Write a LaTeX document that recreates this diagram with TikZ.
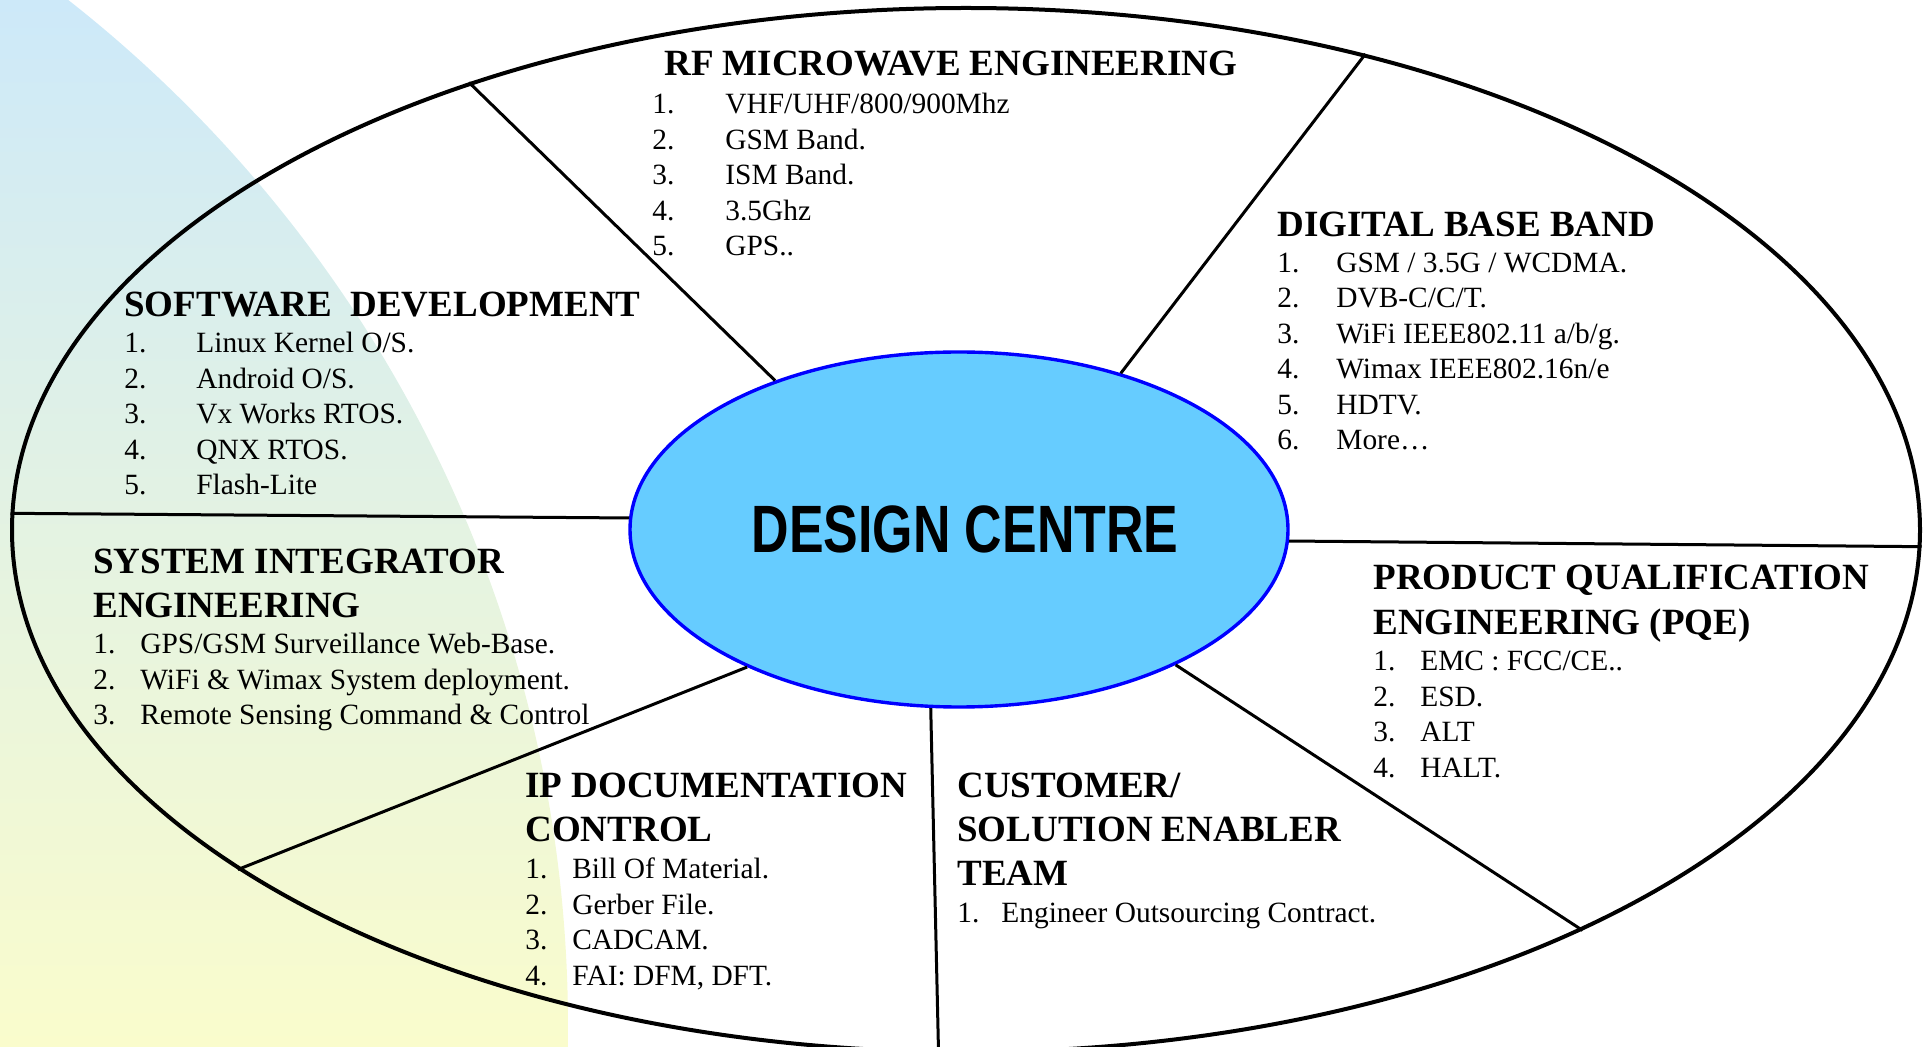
\documentclass[tikz,border=0pt]{standalone}
\usepackage{fontspec}
\setmainfont{Liberation Serif}
\newfontfamily\dcfont[FakeStretch=0.775]{Liberation Sans}
\usetikzlibrary{shapes.geometric}

\definecolor{bgblue}{RGB}{205,233,249}
\definecolor{bgyellow}{RGB}{250,252,204}
\definecolor{dcfill}{RGB}{102,204,255}
\newcommand{\headfont}{\fontsize{18.5}{22}\selectfont\bfseries}
\newcommand{\hd}[1]{\multicolumn{2}{@{}l@{}}{\headfont #1}}

\begin{document}
\begin{tikzpicture}[x=0.5pt, y=-0.5pt,
    spoke/.style={line width=1.5pt},
    block/.style={anchor=base west, inner sep=0pt, font=\fontsize{14.7}{17.75}\selectfont}]
    \useasboundingbox (0,0) rectangle (1924,1047);

    % Background swoosh
    \begin{scope}
        \clip (-737,1027) circle[radius=1305];
        \shade[top color=bgblue, bottom color=bgyellow] (0,0) rectangle (700,1047);
    \end{scope}

    % Outer ring and centre
    \node[ellipse, draw, line width=2pt, minimum width=954pt, minimum height=522pt, inner sep=0pt] (rim) at (966,530) {};
    \node[ellipse, draw=blue, line width=1.7pt, fill=dcfill, minimum width=329pt, minimum height=177.5pt, inner sep=0pt,
          font=\dcfont\bfseries\fontsize{33.5}{36}\selectfont] (dc) at (959,529.5) {\hspace*{6pt}DESIGN CENTRE};

    % Spokes
    \draw[spoke] (dc.141.7) -- (rim.138.9);
    \draw[spoke] (dc.44.2) -- (rim.50.6);
    \draw[spoke] (dc.358) -- (rim.359.34);
    \draw[spoke] (dc.328.3) -- (rim.327.7);
    \draw[spoke] (dc.261.6) -- (rim.267.4);
    \draw[spoke] (dc.213.8) -- (rim.205.7);
    \draw[spoke] (dc.178.5) -- (rim.179.5);

    % Sections
    \node[block] (rf) at (652,76) {\begin{tabular}[t]{@{}p{36.5pt}@{}l@{}}
        \multicolumn{2}{@{\hspace{6pt}}l@{}}{\headfont RF MICROWAVE ENGINEERING}\\[1.25pt]
        1. & VHF/UHF/800/900Mhz\\
        2. & GSM Band.\\
        3. & ISM Band.\\
        4. & 3.5Ghz\\
        5. & GPS..
    \end{tabular}};

    \node[block] (sw) at (124,317) {\begin{tabular}[t]{@{}p{36pt}@{}l@{}}
        \hd{SOFTWARE\ \ DEVELOPMENT}\\[0.25pt]
        1. & Linux Kernel O/S.\\
        2. & Android O/S.\\
        3. & Vx Works RTOS.\\
        4. & QNX RTOS.\\
        5. & Flash-Lite
    \end{tabular}};

    \node[block] (dbb) at (1277,237) {\begin{tabular}[t]{@{}p{29.5pt}@{}l@{}}
        \hd{DIGITAL BASE BAND}\\
        1. & GSM / 3.5G / WCDMA.\\
        2. & DVB-C/C/T.\\
        3. & WiFi IEEE802.11 a/b/g.\\
        4. & Wimax IEEE802.16n/e\\
        5. & HDTV.\\
        6. & More\dots
    \end{tabular}};

    \node[block] (sie) at (93,574) {\begin{tabular}[t]{@{}p{23.5pt}@{}l@{}}
        \hd{SYSTEM INTEGRATOR}\\[4.25pt]
        \hd{ENGINEERING}\\[0.25pt]
        1. & GPS/GSM Surveillance Web-Base.\\
        2. & WiFi \& Wimax System deployment.\\
        3. & Remote Sensing Command \& Control
    \end{tabular}};

    \node[block] (pqe) at (1373,590) {\begin{tabular}[t]{@{}p{23.5pt}@{}l@{}}
        \hd{PRODUCT QUALIFICATION}\\[4.25pt]
        \hd{ENGINEERING (PQE)}\\[0.25pt]
        1. & EMC : FCC/CE..\\
        2. & ESD.\\
        3. & ALT\\
        4. & HALT.
    \end{tabular}};

    \node[block] (ipdc) at (525,798) {\begin{tabular}[t]{@{}p{23.5pt}@{}l@{}}
        \hd{IP DOCUMENTATION}\\[4.25pt]
        \hd{CONTROL}\\[0.75pt]
        1. & Bill Of Material.\\
        2. & Gerber File.\\
        3. & CADCAM.\\
        4. & FAI: DFM, DFT.
    \end{tabular}};

    \node[block] (cset) at (957,798) {\begin{tabular}[t]{@{}p{22pt}@{}l@{}}
        \hd{CUSTOMER/}\\[4.25pt]
        \hd{SOLUTION ENABLER}\\[4.25pt]
        \hd{TEAM}\\[0.75pt]
        1. & Engineer Outsourcing Contract.
    \end{tabular}};
\end{tikzpicture}
\end{document}
